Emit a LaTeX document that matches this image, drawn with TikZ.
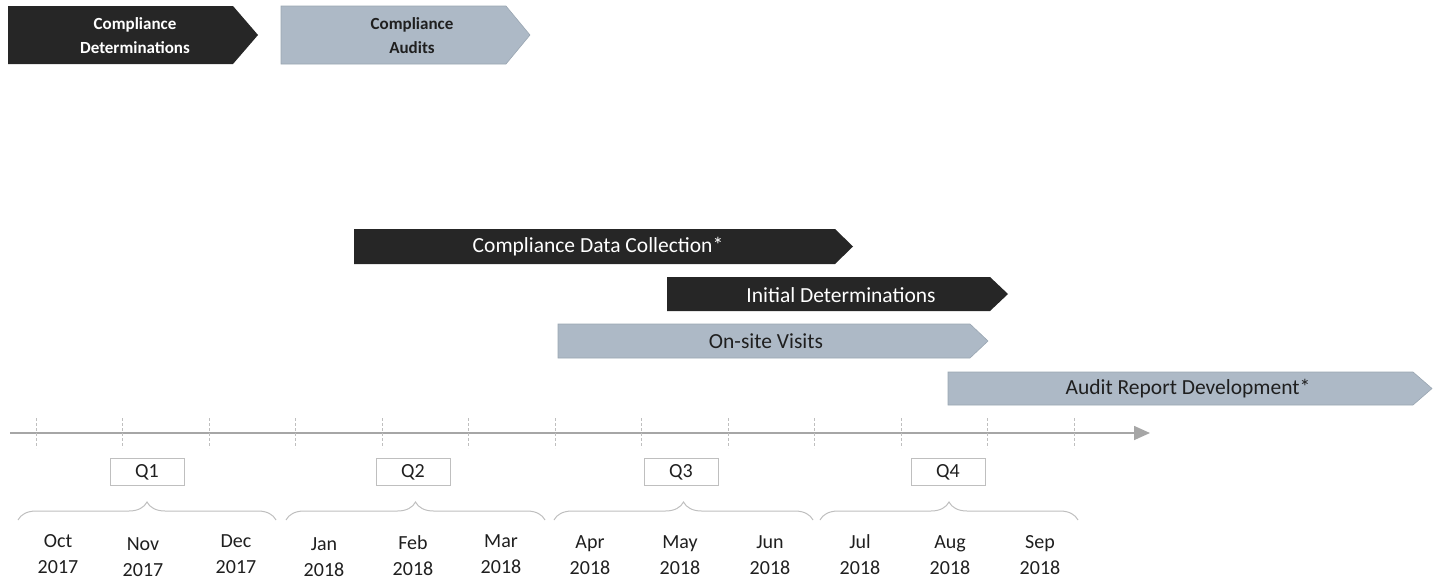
\documentclass[tikz,border=0pt]{standalone}
\usepackage{fontspec}
\setmainfont{Carlito}
\usetikzlibrary{arrows.meta,decorations.pathreplacing}
\definecolor{darkbar}{HTML}{262626}
\definecolor{lightbar}{HTML}{ADB9C6}
\definecolor{lightedge}{HTML}{9AA6B2}
\definecolor{axisgray}{HTML}{A6A6A6}
\definecolor{tickgray}{HTML}{BFBFBF}
\definecolor{textdark}{HTML}{1F1F1F}
\newcommand\chevshape[6]{%
  \path[#1] (#2,#5) -- (#3,#5) -- (#4,{(#5+#6)/2}) -- (#3,#6) -- (#2,#6) -- cycle;}
\begin{document}
\begin{tikzpicture}[x=1pt,y=-1pt,
  darkfill/.style={fill=darkbar},
  lightfill/.style={fill=lightbar,draw=lightedge,line width=0.6pt},
  toptext/.style={font=\fontsize{17}{24}\selectfont\bfseries,align=center,inner sep=0pt},
  bartext/.style={font=\fontsize{21.5}{24}\selectfont,inner sep=0pt},
  qbox/.style={draw=tickgray,line width=0.8pt,fill=white,minimum width=74pt,minimum height=27pt,inner sep=0pt,font=\fontsize{20}{24}\selectfont,text=textdark},
  month/.style={font=\fontsize{20}{26}\selectfont,align=center,inner sep=0pt,text=textdark},
  tick/.style={draw=tickgray,line width=0.8pt,dash pattern=on 3pt off 2pt},
  qbrace/.style={draw=tickgray,line width=1pt,decorate,decoration={brace,amplitude=18pt}}
]
\useasboundingbox (0,0) rectangle (1435,581);

% top legend chevrons
\chevshape{darkfill}{8}{233}{258}{6}{64}
\node[toptext,text=white] (legdet) at (135,36) {Compliance\\Determinations};
\chevshape{lightfill}{281}{506}{530}{6}{64}
\node[toptext,text=textdark] (legaud) at (412,36) {Compliance\\Audits};

% gantt bars
\chevshape{darkfill}{354}{835}{853}{229}{264}
\node[bartext,text=white] (cdc) at (598,247) {Compliance Data Collection*};
\chevshape{darkfill}{667}{990}{1008}{277}{311}
\node[bartext,text=white] (ind) at (841,295) {Initial Determinations};
\chevshape{lightfill}{558}{970}{988}{324}{358}
\node[bartext,text=textdark] (osv) at (766,341) {On-site Visits};
\chevshape{lightfill}{948}{1413}{1432}{372}{405}
\node[bartext,text=textdark] (ard) at (1188,389) {Audit Report Development*};

% axis
\coordinate (axs) at (10,433);
\coordinate (axe) at (1150,433);
\draw[axisgray,line width=1.6pt,-{Triangle[length=16pt,width=14pt]}] (axs) -- (axe);
\foreach \x in {36,122.5,209,295.5,382,468.5,555,641.5,728,814.5,901,987.5,1074}{
  \draw[tick] (\x,418) -- (\x,448);
}

% quarter boxes
\node[qbox] (q1) at (147,472) {Q1};
\node[qbox] (q2) at (413,472) {Q2};
\node[qbox] (q3) at (681,472) {Q3};
\node[qbox] (q4) at (948,472) {Q4};

% braces
\draw[qbrace] (18,520) -- (276,520);
\draw[qbrace] (286,520) -- (545,520);
\draw[qbrace] (554,520) -- (813,520);
\draw[qbrace] (820,520) -- (1078,520);

% months
\node[month] (oct) at (58,554) {Oct\\2017};
\node[month] (nov) at (143,557) {Nov\\2017};
\node[month] (dec) at (236,554) {Dec\\2017};
\node[month] (jan) at (324,557) {Jan\\2018};
\node[month] (feb) at (413,556) {Feb\\2018};
\node[month] (mar) at (501,554) {Mar\\2018};
\node[month] (apr) at (590,555) {Apr\\2018};
\node[month] (may) at (680,555) {May\\2018};
\node[month] (jun) at (770,555) {Jun\\2018};
\node[month] (jul) at (860,555) {Jul\\2018};
\node[month] (aug) at (950,555) {Aug\\2018};
\node[month] (sep) at (1040,555) {Sep\\2018};
\end{tikzpicture}
\end{document}
